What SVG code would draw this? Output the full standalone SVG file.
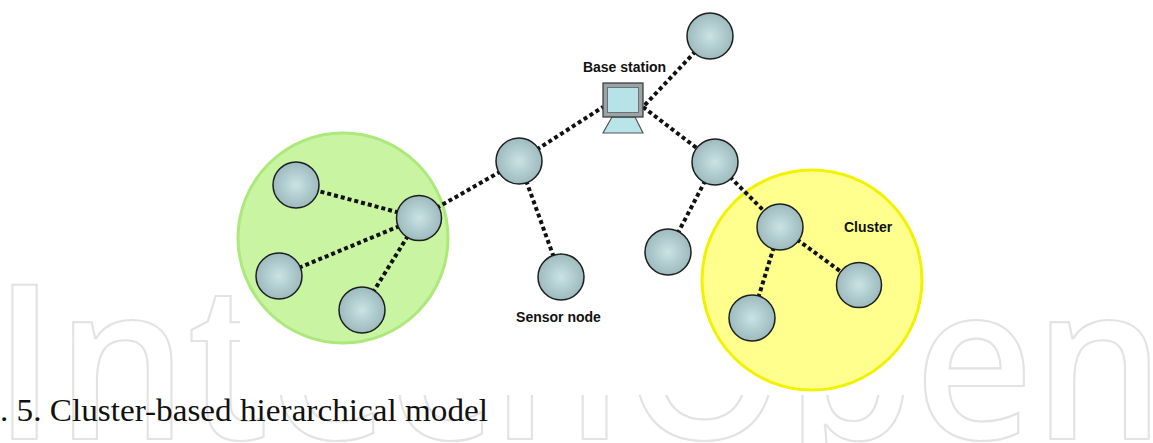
<svg xmlns="http://www.w3.org/2000/svg" width="1153" height="443" viewBox="0 0 1153 443">
<defs>
<radialGradient id="ng" cx="50%" cy="50%" r="55%">
<stop offset="0" stop-color="#cae3e5"/>
<stop offset="1" stop-color="#98b6ba"/>
</radialGradient>
<style>
.node{fill:url(#ng);stroke:#1e1e1e;stroke-width:1.5}
.link{stroke:#111;stroke-width:4;stroke-dasharray:4 3;fill:none}
.lbl{font-family:"Liberation Sans",Arial,sans-serif;font-weight:bold;font-size:14px;fill:#111;text-anchor:middle}
.wm{font-family:"Open Sans","DejaVu Sans",sans-serif;font-weight:600;font-size:215px;fill:#fff;stroke:#e3e3e3;stroke-width:2.2}
.cap{font-family:"Liberation Serif","Times New Roman",serif;font-size:31px;fill:#111}
</style>
</defs>
<rect width="1153" height="443" fill="#fff"/>
<g id="watermark">
<text class="wm" x="-7" y="439" textLength="1172" lengthAdjust="spacingAndGlyphs">IntechOpen</text>
<rect x="240" y="0" width="672" height="395" fill="#fff"/>
</g>
<g id="green-cluster">
<circle cx="343" cy="238" r="105" fill="#c9f5a2" stroke="#ace87c" stroke-width="3"/>
</g>
<g id="yellow-cluster">
<circle cx="812" cy="280" r="110" fill="#ffff8e" stroke="#f2f200" stroke-width="3"/>
</g>
<g id="connectors">
<line class="link" x1="519" y1="161" x2="603" y2="107"/>
<line class="link" x1="710" y1="36" x2="643" y2="107"/>
<line class="link" x1="643" y1="107" x2="715" y2="162"/>
<line class="link" x1="519" y1="161" x2="419" y2="218"/>
<line class="link" x1="519" y1="161" x2="561" y2="277"/>
<line class="link" x1="419" y1="218" x2="296" y2="185"/>
<line class="link" x1="419" y1="218" x2="279" y2="276"/>
<line class="link" x1="419" y1="218" x2="362" y2="310"/>
<line class="link" x1="715" y1="162" x2="668" y2="252"/>
<line class="link" x1="715" y1="162" x2="780" y2="227"/>
<line class="link" x1="780" y1="227" x2="752" y2="318"/>
<line class="link" x1="780" y1="227" x2="859" y2="285"/>
</g>
<g id="base-station">
<polygon points="612,117 635,117 643,133 603,133" fill="#b9e4e8" stroke="#555" stroke-width="1.2"/>
<rect x="603" y="83" width="40" height="34" fill="#9aa4a6" stroke="#333" stroke-width="1.2"/>
<rect x="607.5" y="87.5" width="31" height="25" fill="#b6e2e8" stroke="#6a7274" stroke-width="1"/>
<text class="lbl" x="624.5" y="72">Base station</text>
</g>
<g id="node-top"><circle class="node" cx="710" cy="36" r="23"/></g>
<g id="node-left-hub"><circle class="node" cx="519" cy="161" r="23"/></g>
<g id="node-right-hub"><circle class="node" cx="715" cy="162" r="23"/></g>
<g id="green-head"><circle class="node" cx="419" cy="218" r="22.5"/></g>
<g id="green-n1"><circle class="node" cx="296" cy="185" r="23"/></g>
<g id="green-n2"><circle class="node" cx="279" cy="276" r="23"/></g>
<g id="green-n3"><circle class="node" cx="362" cy="310" r="23"/></g>
<g id="sensor-node"><circle class="node" cx="561" cy="277" r="23"/>
<text class="lbl" x="558.5" y="322">Sensor node</text></g>
<g id="lone-node"><circle class="node" cx="668" cy="252" r="23"/></g>
<g id="yellow-head"><circle class="node" cx="780" cy="227" r="23"/></g>
<g id="yellow-n1"><circle class="node" cx="859" cy="285" r="22.5"/></g>
<g id="yellow-n2"><circle class="node" cx="752" cy="318" r="23"/></g>
<g id="cluster-label"><text class="lbl" x="868" y="232">Cluster</text></g>
<g id="caption"><text class="cap" x="0" y="421" textLength="488" lengthAdjust="spacingAndGlyphs">. 5. Cluster-based hierarchical model</text></g>
</svg>
